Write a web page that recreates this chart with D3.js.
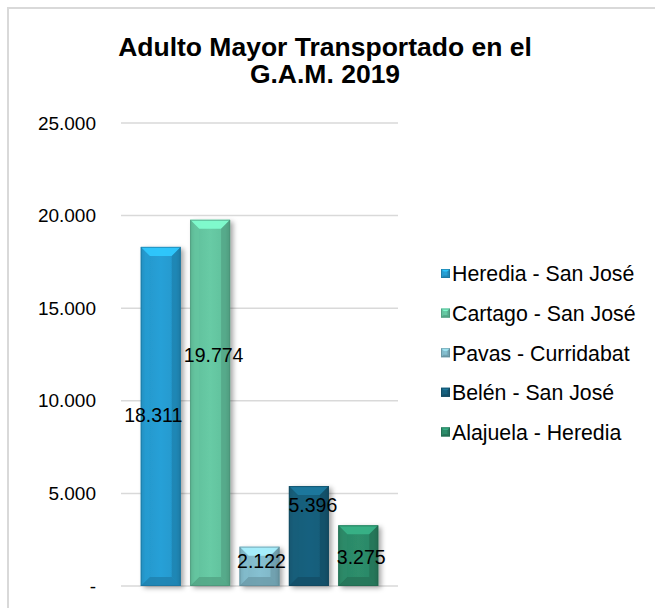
<!DOCTYPE html>
<html><head><meta charset="utf-8">
<script src="https://cdn.jsdelivr.net/npm/d3@7"></script>
<style>html,body{margin:0;padding:0;background:#fff;}svg{display:block;font-family:Arial,"Liberation Sans",sans-serif;}</style>
</head><body>
<script>
const series = ["Heredia - San José","Cartago - San José","Pavas - Curridabat","Belén - San José","Alajuela - Heredia"];
const values = [18311, 19774, 2122, 5396, 3275];
const labels = ["18.311","19.774","2.122","5.396","3.275"];
const tickValues = [0, 5000, 10000, 15000, 20000, 25000];
const tickLabels = ["-", "5.000", "10.000", "15.000", "20.000", "25.000"];
const colors = ["#2498cc","#62c09c","#7fb6c6","#165c78","#2b8766"];
const titleLines = ["Adulto Mayor Transportado en el","G.A.M. 2019"];

const W = 655, H = 608;
const svg = d3.select("body").append("svg").attr("width", W).attr("height", H);
const defs = svg.append("defs");
const f = defs.append("filter").attr("id","sh").attr("x","-30%").attr("y","-10%").attr("width","170%").attr("height","130%");
f.append("feDropShadow").attr("dx",3).attr("dy",2).attr("stdDeviation",2.5).attr("flood-color","#000").attr("flood-opacity",0.35);

// frame
svg.append("rect").attr("x",8).attr("y",8).attr("width",W+20).attr("height",H+20)
  .attr("fill","#fff").attr("stroke","#d9d9d9").attr("stroke-width",2);

// title
svg.append("g").selectAll("text").data(titleLines).join("text")
  .attr("x", 325).attr("y",(d,i)=>56+i*27).attr("text-anchor","middle")
  .attr("font-size",26.5).attr("font-weight","bold").attr("fill","#000").text(d=>d);

const y = d3.scaleLinear().domain([0,25000]).range([586,123]);
const x = d3.scaleBand().domain(series).range([121,398]).paddingInner(0.19).paddingOuter(0.4);

// grid
svg.append("g").selectAll("line").data(tickValues).join("line")
  .attr("x1",121).attr("x2",398).attr("y1",d=>y(d)).attr("y2",d=>y(d))
  .attr("stroke","#d9d9d9").attr("stroke-width",1.5);

// y axis labels
const yAxis = d3.axisLeft(y).tickValues(tickValues).tickSize(0).tickPadding(0)
  .tickFormat((d,i)=>tickLabels[i]);
const ga = svg.append("g").attr("transform","translate(96,0)").call(yAxis);
ga.select(".domain").remove();
ga.selectAll("text").attr("font-size",19).attr("fill","#000").attr("font-family","Arial,'Liberation Sans',sans-serif");

// gradients
colors.forEach((c,i)=>{
  const g = defs.append("linearGradient").attr("id","g"+i).attr("x1",0).attr("x2",1).attr("y1",0).attr("y2",0);
  const cc = d3.color(c);
  g.append("stop").attr("offset","0%").attr("stop-color",cc.darker(0.5));
  g.append("stop").attr("offset","12%").attr("stop-color",cc);
  g.append("stop").attr("offset","50%").attr("stop-color",cc.brighter(0.15));
  g.append("stop").attr("offset","88%").attr("stop-color",cc);
  g.append("stop").attr("offset","100%").attr("stop-color",cc.darker(0.6));
});

function drawBevelBar(sel, x0, y0, w, h, i, bev){
  const c = d3.color(colors[i]);
  const b = Math.min(bev, h/2, w/2);
  sel.append("rect").attr("x",x0).attr("y",y0).attr("width",w).attr("height",h)
    .attr("fill",`url(#g${i})`).attr("filter","url(#sh)");
  sel.append("path").attr("d",`M${x0},${y0}L${x0+w},${y0}L${x0+w-b},${y0+b}L${x0+b},${y0+b}Z`)
    .attr("fill",c.brighter(0.8)).attr("opacity",0.9);
  sel.append("path").attr("d",`M${x0},${y0+h}L${x0+w},${y0+h}L${x0+w-b},${y0+h-b}L${x0+b},${y0+h-b}Z`)
    .attr("fill",c.darker(0.45)).attr("opacity",0.8);
  sel.append("path").attr("d",`M${x0},${y0}L${x0+b},${y0+b}L${x0+b},${y0+h-b}L${x0},${y0+h}Z`)
    .attr("fill",c.brighter(0.1)).attr("opacity",0.5);
  sel.append("path").attr("d",`M${x0+w},${y0}L${x0+w-b},${y0+b}L${x0+w-b},${y0+h-b}L${x0+w},${y0+h}Z`)
    .attr("fill",c.darker(0.6)).attr("opacity",0.6);
  sel.append("rect").attr("x",x0+0.5).attr("y",y0+0.5).attr("width",w-1).attr("height",h-1)
    .attr("fill","none").attr("stroke",c.darker(0.8)).attr("stroke-opacity",0.6);
}

const bars = svg.append("g");
series.forEach((s,i)=>{
  const g = bars.append("g");
  drawBevelBar(g, x(s), y(values[i]), x.bandwidth(), y(0)-y(values[i]), i, 9);
});

// data labels (positions nudged like the original export)
const labelFrac = [0.505, 0.63, 0.62, 0.81, 0.48];
const labelDx = [-7.5, 3.5, 2, 4, 3];
svg.append("g").selectAll("text").data(series).join("text")
  .attr("x",(d,i)=>x(d)+x.bandwidth()/2+labelDx[i])
  .attr("y",(d,i)=>y(values[i]*labelFrac[i]))
  .attr("dy","0.35em").attr("text-anchor","middle")
  .attr("font-size",19.5).attr("fill","#000").text((d,i)=>labels[i]);

// legend
const lg = svg.append("g");
series.forEach((s,i)=>{
  const yy = 274 + i*39.6;
  const g = lg.append("g");
  drawBevelBar(g, 441, yy-5, 9, 9, i, 2.5);
  g.select("rect").attr("filter",null);
  lg.append("text").attr("x",452).attr("y",yy).attr("dy","0.35em")
    .attr("font-size",21.3).attr("fill","#000").text(s);
});
</script>
</body></html>
